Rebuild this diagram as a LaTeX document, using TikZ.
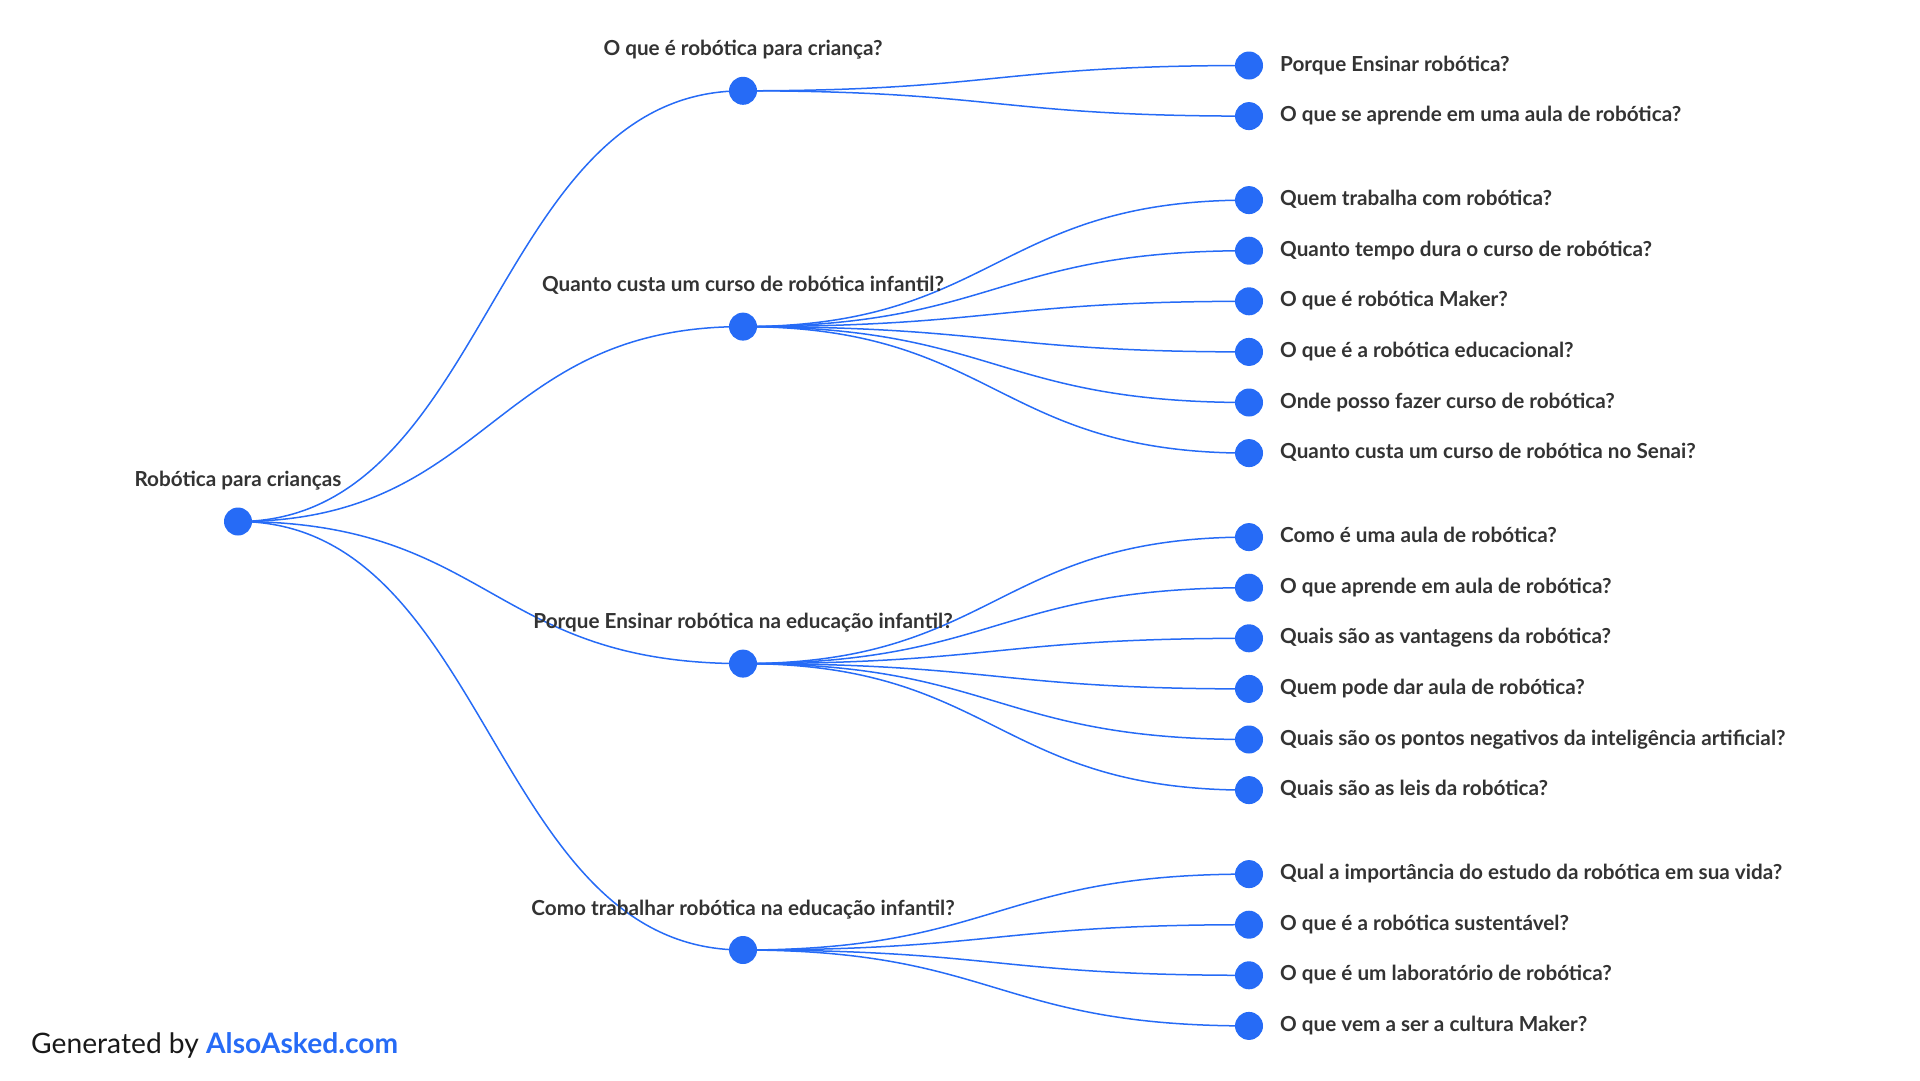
\documentclass[tikz,border=0pt]{standalone}
\usepackage{fontspec}
\setmainfont{Lato}
\usetikzlibrary{calc,backgrounds}
\definecolor{aablue}{RGB}{38,107,246}
\definecolor{aatext}{RGB}{51,51,51}
\tikzset{
  dot/.style={circle,fill=aablue,minimum size=28pt,inner sep=0pt},
  conn/.style={aablue,line width=1.5pt},
  lbl/.style={font=\fontsize{20.7}{24}\selectfont\bfseries,text=aatext,inner sep=0pt},
}
\newcommand\link[2]{\draw[conn] let \p1=(#1.center), \p2=(#2.center) in (#1.center) .. controls ({(\x1+\x2)/2},\y1) and ({(\x1+\x2)/2},\y2) .. (#2.center);}
\begin{document}
\begin{tikzpicture}[x=1pt,y=-1pt]
\useasboundingbox (0,0) rectangle (1920,1080);
\begin{scope}[yshift=-1.5pt]
% root
\node[dot] (r) at (238,520) {};
\node[lbl,anchor=base] (rl) at (238,485) {Robótica para crianças};
% level 1
\node[dot] (a) at (743,89.3) {};
\node[dot] (b) at (743,325.1) {};
\node[dot] (c) at (743,662.1) {};
\node[dot] (d) at (743,948.5) {};
\node[lbl,anchor=base] (al) at (743,54.3) {O que é robótica para criança?};
\node[lbl,anchor=base] (bl) at (743,290.1) {Quanto custa um curso de robótica infantil?};
\node[lbl,anchor=base] (cl) at (743,627.1) {Porque Ensinar robótica na educação infantil?};
\node[lbl,anchor=base] (dl) at (743,913.5) {Como trabalhar robótica na educação infantil?};
% level 2
\foreach \n/\y/\t in {
 a1/64/{Porque Ensinar robótica?},
 a2/114.6/{O que se aprende em uma aula de robótica?},
 b1/198.6/{Quem trabalha com robótica?},
 b2/249.2/{Quanto tempo dura o curso de robótica?},
 b3/299.8/{O que é robótica Maker?},
 b4/350.4/{O que é a robótica educacional?},
 b5/401/{Onde posso fazer curso de robótica?},
 b6/451.6/{Quanto custa um curso de robótica no Senai?},
 c1/535.6/{Como é uma aula de robótica?},
 c2/586.2/{O que aprende em aula de robótica?},
 c3/636.8/{Quais são as vantagens da robótica?},
 c4/687.4/{Quem pode dar aula de robótica?},
 c5/738/{Quais são os pontos negativos da inteligência artificial?},
 c6/788.6/{Quais são as leis da robótica?},
 d1/872.6/{Qual a importância do estudo da robótica em sua vida?},
 d2/923.2/{O que é a robótica sustentável?},
 d3/973.8/{O que é um laboratório de robótica?},
 d4/1024.4/{O que vem a ser a cultura Maker?}}{
  \node[dot] (\n) at (1249,\y) {};
  \node[lbl,anchor=base west] (\n l) at (1280,\y+5.5) {\t};
}
\begin{pgfonlayer}{background}
\link{r}{a}\link{r}{b}\link{r}{c}\link{r}{d}
\link{a}{a1}\link{a}{a2}
\foreach \k in {1,...,6}{\link{b}{b\k}}
\foreach \k in {1,...,6}{\link{c}{c\k}}
\foreach \k in {1,...,4}{\link{d}{d\k}}
\end{pgfonlayer}
\end{scope}
% footer
\node[anchor=base west,inner sep=0pt,font=\fontsize{28.2}{32}\selectfont] (ft) at (31,1053)
  {\textcolor{black!90}{Generated by} \textcolor{aablue}{\bfseries AlsoAsked.com}};
\end{tikzpicture}
\end{document}
